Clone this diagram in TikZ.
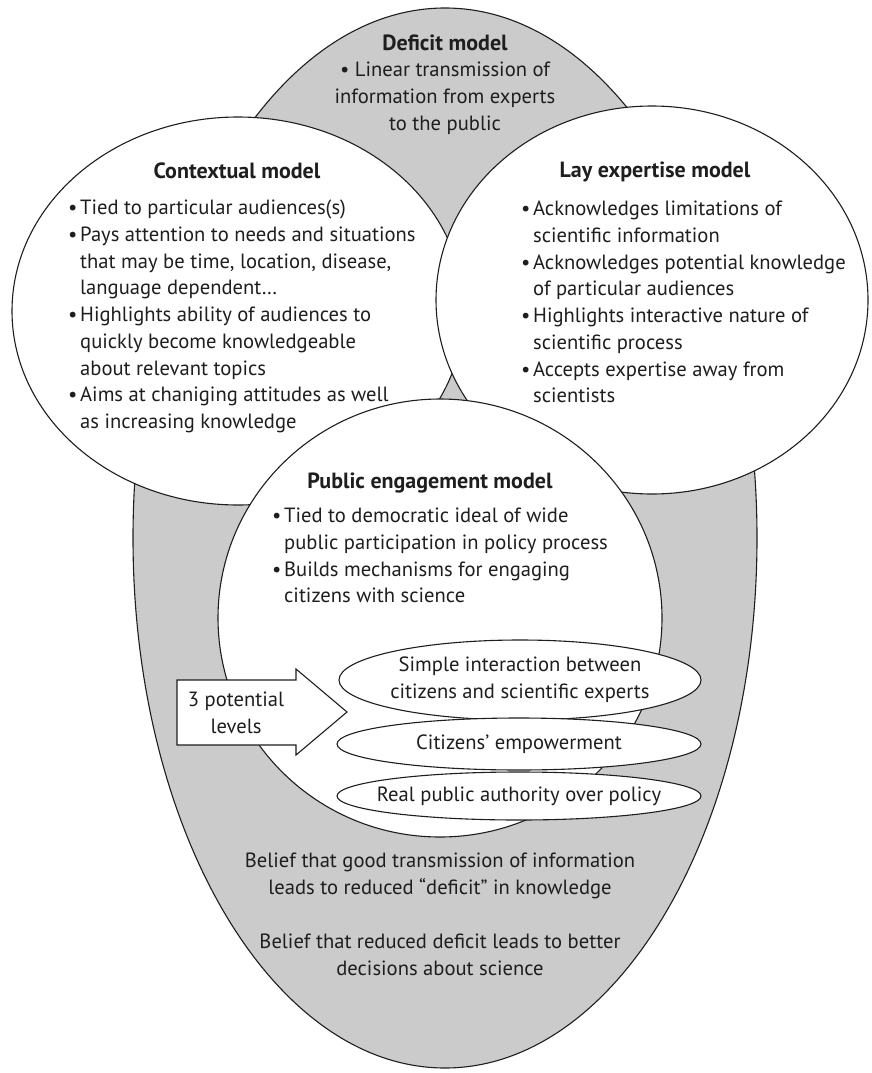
\documentclass[tikz,border=0pt]{standalone}
\usepackage{fontspec}
\setmainfont{PT Sans}
\usepackage{xcolor}
\usepackage{tikz}
\usetikzlibrary{positioning,shapes.geometric,calc}
\definecolor{ink}{RGB}{30,30,30}
\definecolor{dotgrey}{RGB}{203,203,203}
\newcommand{\bodyfont}{\fontsize{20.6}{26.7}\selectfont}
\newcommand{\headfont}{\fontsize{22}{26.7}\selectfont\bfseries}
\newcommand{\itm}{\makebox[12pt][l]{\textbullet}}
\newcommand{\cnt}{\hspace*{12pt}}
\tikzset{
  backdrop/.style   = {ellipse, draw=ink, fill=dotgrey, line width=1.1pt, inner sep=0pt},
  bubble/.style     = {ellipse, draw=ink, fill=white, line width=1.1pt, inner sep=0pt},
  level/.style      = {ellipse, draw=ink, fill=white, line width=1.1pt, inner sep=0pt},
  title/.style      = {font=\headfont, text=ink, inner sep=0pt},
  body/.style       = {font=\bodyfont, text=ink, align=left, inner sep=0pt},
  blockarrow/.style = {draw=ink, fill=white, line width=1.1pt, line join=miter},
}

\begin{document}
\begin{tikzpicture}[x=1pt,y=-1pt]
\useasboundingbox (0,0) rectangle (872,1073);

% Backdrop: deficit model
\node[backdrop, minimum width=624pt, minimum height=1060pt] (deficit) at (445,538) {};
\node[title] (defT) at (445,43) {Deficit model};
\node[body, align=center, anchor=north] (defB) at (445,62)
  {\textbullet\ Linear transmission of\\information from experts\\to the public};

% Contextual model
\node[bubble, minimum width=452pt, minimum height=388pt] (context) at (238,311) {};
\node[title] (ctxT) at (237,171) {Contextual model};
\node[body, anchor=north west] (ctxB) at (68,200)
  {\itm Tied to particular audiences(s)\\
   \itm Pays attention to needs and situations\\
   \cnt that may be time, location, disease,\\
   \cnt language dependent\ldots\\
   \itm Highlights ability of audiences to\\
   \cnt quickly become knowledgeable\\
   \cnt about relevant topics\\
   \itm Aims at chaniging attitudes as well\\
   \cnt as increasing knowledge};

% Lay expertise model
\node[bubble, minimum width=432pt, minimum height=388pt] (lay) at (652,300) {};
\node[title] (layT) at (655,172) {Lay expertise model};
\node[body, anchor=north west] (layB) at (521,201)
  {\itm Acknowledges limitations of\\
   \cnt scientific information\\
   \itm Acknowledges potential knowledge\\
   \cnt of particular audiences\\
   \itm Highlights interactive nature of\\
   \cnt scientific process\\
   \itm Accepts expertise away from\\
   \cnt scientists};

% Public engagement model
\node[bubble, minimum width=444pt, minimum height=438pt] (engage) at (440,618) {};
\node[title] (engT) at (430,483) {Public engagement model};
\node[body, anchor=north west] (engB) at (272,508)
  {\itm Tied to democratic ideal of wide\\
   \cnt public participation in policy process\\
   \itm Builds mechanisms for engaging\\
   \cnt citizens with science};

% Three levels of engagement
\node[level, minimum width=362pt, minimum height=80pt] (lvlA) at (520,680) {};
\node[body, align=center] (lvlAtxt) at (lvlA) {Simple interaction between\\citizens and scientific experts};
\node[level, minimum width=364pt, minimum height=52pt] (lvlB) at (519,744) {};
\node[body] (lvlBtxt) at (lvlB) {Citizens' empowerment};
\node[level, minimum width=364pt, minimum height=48pt] (lvlC) at (519,796) {};
\node[body] (lvlCtxt) at (lvlC) {Real public authority over policy};

% Block arrow pointing at the levels
\coordinate (arrowmid) at (236,713);
\draw[blockarrow] ($(arrowmid)+(-59,-33)$) -- ($(arrowmid)+(60,-33)$)
  -- ($(arrowmid)+(60,-44)$) -- ($(arrowmid)+(111,-1)$) -- ($(arrowmid)+(60,42)$)
  -- ($(arrowmid)+(60,32)$) -- ($(arrowmid)+(-59,32)$) -- cycle;
\node[body, align=center] (levels) at (arrowmid) {3 potential\\levels};

% Beliefs behind the deficit model
\node[body, align=center] (beliefA) at (440,876)
  {Belief that good transmission of information\\leads to reduced ``deficit'' in knowledge};
\node[body, align=center] (beliefB) at (440,955)
  {Belief that reduced deficit leads to better\\decisions about science};
\end{tikzpicture}
\end{document}
